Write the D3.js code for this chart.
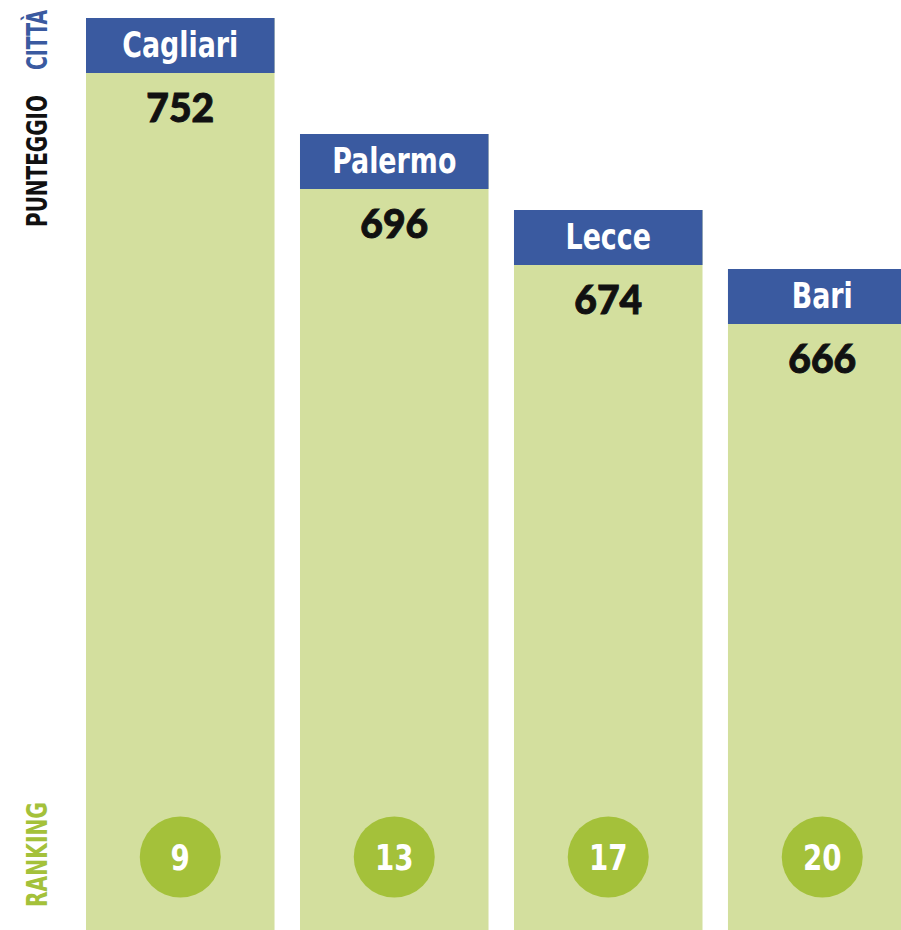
<!DOCTYPE html>
<html>
<head>
<meta charset="utf-8">
<script src="https://cdn.jsdelivr.net/npm/d3@7/dist/d3.min.js"></script>
<style>
  html, body { margin: 0; padding: 0; background: #ffffff; }
  svg { display: block; }
</style>
</head>
<body>
<svg id="chart" width="901" height="930"></svg>
<script>
// City scores and their national ranking
const cities  = ["Cagliari", "Palermo", "Lecce", "Bari"];
const scores  = [752, 696, 674, 666];
const ranking = [9, 13, 17, 20];

const W = 901, H = 930;
const svg = d3.select("#chart");

const BLUE = "#3a5aa0", BAR = "#d3df9e", DOT = "#a4c13a";
const COND = "'DejaVu Sans Condensed', 'DejaVu Sans', sans-serif";

// squeeze a text horizontally to imitate a condensed face
function squeeze(sel, k) {
  sel.each(function () {
    const w = this.getComputedTextLength();
    d3.select(this).attr("textLength", w * k).attr("lengthAdjust", "spacingAndGlyphs");
  });
}

// Horizontal placement of the columns
const x = d3.scaleBand()
  .domain(cities)
  .range([86, 916.5])
  .paddingInner(0.119)
  .paddingOuter(0);

// Column top for each score (piecewise, as the columns are stepped)
const y = d3.scaleLinear()
  .domain([666, 674, 696, 752])
  .range([269, 210, 134, 18]);

const headerH = 55;
const rows = cities.map((c, i) => ({ city: c, score: scores[i], rank: ranking[i] }));

const col = svg.selectAll("g.col").data(rows).join("g")
  .attr("class", "col")
  .attr("transform", d => `translate(${x(d.city)},0)`);

// green column
col.append("rect")
  .attr("x", 0).attr("y", d => y(d.score))
  .attr("width", x.bandwidth())
  .attr("height", d => H - y(d.score))
  .attr("fill", BAR);

// blue header with city name
col.append("rect")
  .attr("x", 0).attr("y", d => y(d.score))
  .attr("width", x.bandwidth())
  .attr("height", headerH)
  .attr("fill", BLUE);

col.append("text")
  .attr("x", x.bandwidth() / 2)
  .attr("y", d => y(d.score) + 39)
  .attr("text-anchor", "middle")
  .attr("fill", "#ffffff")
  .style("font-family", COND)
  .style("font-weight", "bold")
  .style("font-size", "36px")
  .text(d => d.city)
  .call(squeeze, 0.83);

// score
col.append("text")
  .attr("x", x.bandwidth() / 2)
  .attr("y", d => y(d.score) + headerH + 49)
  .attr("text-anchor", "middle")
  .attr("fill", "#111111")
  .attr("stroke", "#111111")
  .attr("stroke-width", 0.9)
  .style("font-family", "Lato, 'Open Sans', sans-serif")
  .style("font-weight", "900")
  .style("font-size", "39px")
  .text(d => d.score);

// ranking badge
const cy = 857;
col.append("circle")
  .attr("cx", x.bandwidth() / 2)
  .attr("cy", cy)
  .attr("r", 40.5)
  .attr("fill", DOT);

col.append("text")
  .attr("x", x.bandwidth() / 2)
  .attr("y", cy + 13)
  .attr("text-anchor", "middle")
  .attr("fill", "#ffffff")
  .style("font-family", COND)
  .style("font-weight", "bold")
  .style("font-size", "35px")
  .text(d => d.rank)
  .call(squeeze, 0.88);

// vertical row labels on the left, narrowed to their column length
const sideLabels = [
  { text: "CITTÀ",     color: BLUE,      cy: 40,    len: 60 },
  { text: "PUNTEGGIO", color: "#111111", cy: 161,   len: 132 },
  { text: "RANKING",   color: DOT,       cy: 854.5, len: 105 }
];

const side = svg.selectAll("g.side").data(sideLabels).join("g")
  .attr("class", "side");

side.append("text")
  .attr("text-anchor", "middle")
  .attr("fill", d => d.color)
  .style("font-family", COND)
  .style("font-weight", "bold")
  .style("font-size", "28px")
  .text(d => d.text);

side.attr("transform", function (d) {
  const w = this.querySelector("text").getComputedTextLength();
  return `translate(47,${d.cy}) rotate(-90) scale(${d.len / w},1)`;
});
</script>
</body>
</html>
